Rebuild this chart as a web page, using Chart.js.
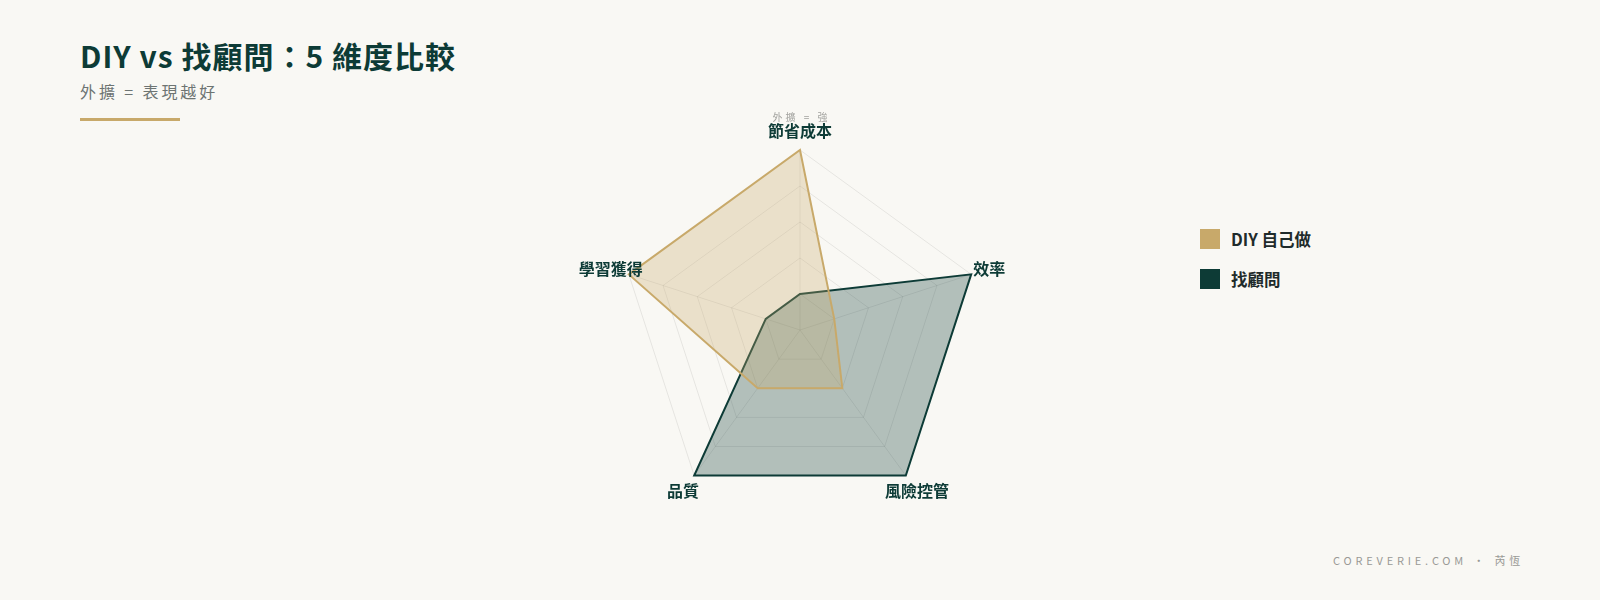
<!DOCTYPE html>
<html>
<head>
<meta charset="utf-8">
<script src="https://cdn.jsdelivr.net/npm/chart.js@4.4.1/dist/chart.umd.min.js"></script>
<style>
  html, body { margin: 0; padding: 0; }
  body {
    width: 1600px; height: 600px; position: relative; overflow: hidden;
    background: #f9f8f4;
    font-family: "Noto Sans CJK TC", "Noto Sans", sans-serif;
  }
  .title {
    position: absolute; left: 80px; top: 33px;
    font-size: 30px; font-weight: 700; color: #0d3b36; letter-spacing: 1px;
  }
  .subtitle {
    position: absolute; left: 80px; top: 79px;
    font-size: 16px; color: #6d7472; letter-spacing: 2.9px;
  }
  .rule {
    position: absolute; left: 80px; top: 118px; width: 100px; height: 3px; background: #c8a96a;
  }
  .chart-box { position: absolute; left: 500px; top: 100px; width: 600px; height: 440px; }
  .legend { position: absolute; left: 1200px; top: 229px; }
  .legend .item { display: flex; align-items: center; height: 20px; margin-bottom: 20px; }
  .legend .sw { width: 20px; height: 20px; margin-right: 11px; }
  .legend .lb { font-size: 16.5px; font-weight: 700; color: #1f2b2b; }
  .footer {
    position: absolute; right: 76px; top: 552px;
    font-size: 11px; color: #9a9a96; letter-spacing: 3.8px;
  }
</style>
</head>
<body>
<div class="title">DIY vs 找顧問：5 維度比較</div>
<div class="subtitle">外擴 = 表現越好</div>
<div class="rule"></div>
<div class="chart-box"><canvas id="radar"></canvas></div>
<div class="legend" id="legend"></div>
<div class="footer">COREVERIE.COM · 芮恆</div>

<script>
// 五個維度
const dimensions = ['節省成本', '效率', '風險控管', '品質', '學習獲得'];
const diyValues = [5, 1, 2, 2, 5];
const advisorValues = [1, 5, 5, 5, 1];
const seriesNames = ['DIY 自己做', '找顧問'];
const seriesColors = ['#c8a96a', '#0d3b36'];
const seriesFills = ['rgba(200, 169, 106, 0.3)', 'rgba(13, 59, 54, 0.3)'];

// 維度名稱置中畫在各軸延長線上，頂端再加一行小字「外擴 = 強」
const axisLabelPlugin = {
  id: 'axisLabels',
  afterDraw(chart) {
    const scale = chart.scales.r;
    const ctx = chart.ctx;
    ctx.save();
    ctx.textAlign = 'center';
    ctx.textBaseline = 'middle';
    ctx.font = 'bold 16px "Noto Sans CJK TC"';
    ctx.fillStyle = '#0d3b36';
    chart.data.labels.forEach((label, i) => {
      const p = scale.getPointPosition(i, scale.drawingArea + 19);
      ctx.fillText(label, p.x, p.y);
    });
    const top = scale.getPointPosition(0, scale.drawingArea + 19);
    ctx.font = '10px "Noto Sans CJK TC"';
    ctx.fillStyle = '#a3a39f';
    ctx.letterSpacing = '3px';
    ctx.fillText('外擴 = 強', top.x + 1.5, top.y - 14);
    ctx.restore();
  }
};

const ctx = document.getElementById('radar').getContext('2d');
new Chart(ctx, {
  type: 'radar',
  data: {
    labels: dimensions,
    datasets: [
      {
        label: seriesNames[0],
        data: diyValues,
        borderColor: seriesColors[0],
        backgroundColor: seriesFills[0],
        borderWidth: 2,
        pointRadius: 0,
        tension: 0
      },
      {
        label: seriesNames[1],
        data: advisorValues,
        borderColor: seriesColors[1],
        backgroundColor: seriesFills[1],
        borderWidth: 2,
        pointRadius: 0,
        tension: 0
      }
    ]
  },
  options: {
    responsive: true,
    maintainAspectRatio: false,
    animation: false,
    layout: { padding: { left: 120, right: 120, top: 50, bottom: 30 } },
    plugins: {
      legend: { display: false },
      tooltip: { enabled: false }
    },
    scales: {
      r: {
        min: 0,
        max: 5,
        ticks: { display: false, stepSize: 1 },
        grid: { color: 'rgba(0, 0, 0, 0.08)' },
        angleLines: { color: 'rgba(0, 0, 0, 0.08)' },
        pointLabels: { display: false }
      }
    }
  },
  plugins: [axisLabelPlugin]
});

// 右側圖例
const legendEl = document.getElementById('legend');
seriesNames.forEach((name, i) => {
  const item = document.createElement('div');
  item.className = 'item';
  item.innerHTML = '<div class="sw" style="background:' + seriesColors[i] + '"></div><div class="lb">' + name + '</div>';
  legendEl.appendChild(item);
});
</script>
</body>
</html>
